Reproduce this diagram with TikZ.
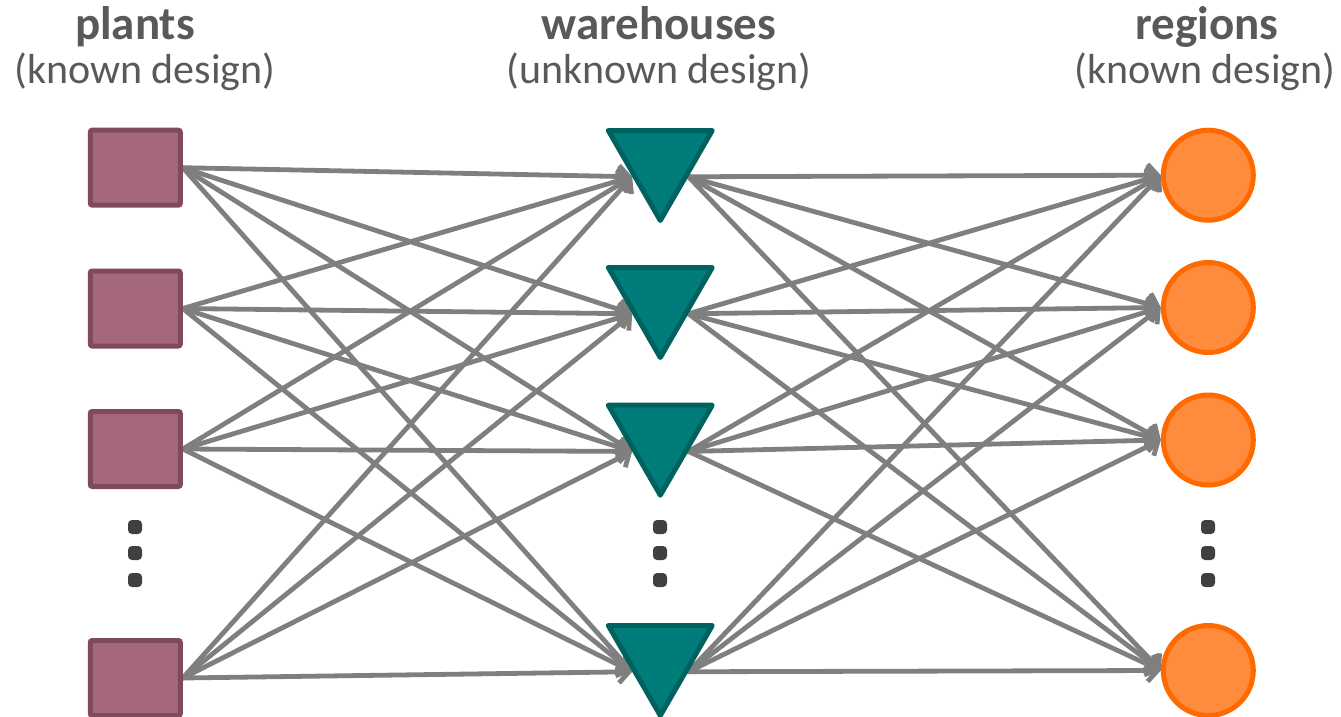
\documentclass[tikz,border=0pt]{standalone}
\usepackage{fontspec}
\setmainfont{Carlito}
\usetikzlibrary{shapes.geometric,arrows.meta,backgrounds}
\definecolor{plantfill}{HTML}{A5677A}
\definecolor{plantline}{HTML}{7E4A5C}
\definecolor{housefill}{HTML}{007D7B}
\definecolor{houseline}{HTML}{00625F}
\definecolor{regionfill}{HTML}{FF8B3D}
\definecolor{regionline}{HTML}{FF6A00}
\definecolor{flowgray}{HTML}{7F7F7F}
\definecolor{labelgray}{HTML}{595959}
\definecolor{dotgray}{HTML}{404040}
\tikzset{
  plant/.style={rectangle, draw=plantline, fill=plantfill, line width=5pt,
    minimum width=90pt, minimum height=75pt, inner sep=0pt, rounded corners=2pt},
  house/.style={regular polygon, regular polygon sides=3, shape border rotate=180,
    draw=houseline, fill=housefill, line width=5pt, line join=round,
    minimum size=120pt, inner sep=0pt},
  region/.style={circle, draw=regionline, fill=regionfill, line width=5pt,
    minimum size=90pt, inner sep=0pt},
  ellip/.style={rectangle, fill=dotgray, minimum size=14pt, inner sep=0pt,
    rounded corners=4pt},
  flowline/.style={draw=flowgray, line width=4.8pt, line cap=round, line join=round,
    -{Straight Barb[length=10pt,width=22pt]}},
  head/.style={anchor=base, text=labelgray, font=\fontsize{47}{56}\selectfont\bfseries},
  sub/.style={anchor=base, text=labelgray, font=\fontsize{42}{50}\selectfont},
}
\begin{document}
\begin{tikzpicture}[x=1pt, y=-1pt]
  \useasboundingbox (0,0) rectangle (1341,717);

  % column headings
  \node[head] (hplants) at (135,40) {plants};
  \node[sub]  (splants) at (145,84) {(known design)};
  \node[head] (hhouses) at (659,40) {warehouses};
  \node[sub]  (shouses) at (659,84) {(unknown design)};
  \node[head] (hregions) at (1207,40) {regions};
  \node[sub]  (sregions) at (1205,84) {(known design)};

  % plants
  \node[plant] (p1) at (135.3,167.7) {};
  \node[plant] (p2) at (135.3,308.5) {};
  \node[plant] (p3) at (135.3,449) {};
  \node[plant] (p4) at (135.3,678) {};

  % warehouses
  \node[house] (w1) at (660.3,160.5) {};
  \node[house] (w2) at (660.3,297.5) {};
  \node[house] (w3) at (660.3,435.2) {};
  \node[house] (w4) at (660.3,655.5) {};

  % regions
  \node[region] (r1) at (1208.3,175.2) {};
  \node[region] (r2) at (1208.3,307.5) {};
  \node[region] (r3) at (1208.3,440) {};
  \node[region] (r4) at (1208.3,670.5) {};

  % vertical ellipses
  \foreach \x/\c in {135/a, 660/b, 1208/c}{
    \node[ellip] (d\c1) at (\x,527) {};
    \node[ellip] (d\c2) at (\x,553) {};
    \node[ellip] (d\c3) at (\x,580) {};
  }

  % flows: plants -> warehouses (left side midpoints), warehouses -> regions
  \begin{scope}[on background layer]
    \foreach \i in {1,...,4}{
      \foreach \j in {1,...,4}{
        \draw[flowline] (p\i.east) -- (w\j.210);
        \draw[flowline] (w\i.330) -- (r\j.west);
      }
    }
  \end{scope}
\end{tikzpicture}
\end{document}
